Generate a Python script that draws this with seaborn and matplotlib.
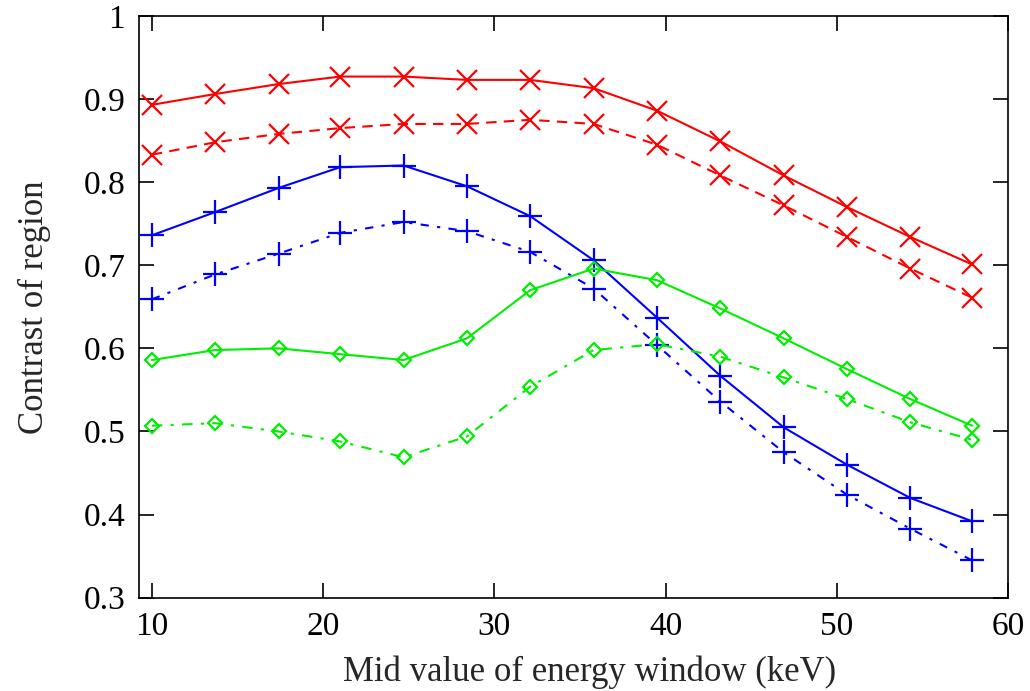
import matplotlib
matplotlib.use("Agg")
import matplotlib.pyplot as plt
import pandas as pd
import seaborn as sns

# mid value of energy window (keV)
energy = [10.0, 13.7, 17.4, 21.0, 24.7, 28.4, 32.1, 35.8, 39.5, 43.2, 46.9, 50.6, 54.3, 57.9]

red_solid = [0.893, 0.906, 0.918, 0.927, 0.927, 0.923, 0.923, 0.913, 0.886, 0.849, 0.808, 0.770, 0.734, 0.701]
red_dashed = [0.833, 0.848, 0.858, 0.865, 0.870, 0.870, 0.875, 0.870, 0.845, 0.808, 0.772, 0.734, 0.696, 0.661]
blue_solid = [0.736, 0.764, 0.793, 0.818, 0.820, 0.795, 0.759, 0.706, 0.637, 0.567, 0.505, 0.460, 0.420, 0.392]
blue_dashed = [0.659, 0.689, 0.714, 0.739, 0.752, 0.741, 0.716, 0.672, 0.604, 0.536, 0.475, 0.424, 0.383, 0.345]
green_solid = [0.586, 0.598, 0.600, 0.593, 0.586, 0.612, 0.670, 0.696, 0.682, 0.648, 0.612, 0.575, 0.539, 0.507]
green_dashed = [0.507, 0.510, 0.500, 0.488, 0.469, 0.494, 0.554, 0.598, 0.605, 0.590, 0.565, 0.539, 0.511, 0.490]

xticks = [10, 20, 30, 40, 50, 60]
yticks = [0.3, 0.4, 0.5, 0.6, 0.7, 0.8, 0.9, 1.0]
ytick_labels = ["0.3", "0.4", "0.5", "0.6", "0.7", "0.8", "0.9", "1"]


def get_data() -> pd.DataFrame:
    series = {
        "red_solid": red_solid, "red_dashed": red_dashed,
        "blue_solid": blue_solid, "blue_dashed": blue_dashed,
        "green_solid": green_solid, "green_dashed": green_dashed,
    }
    rows = []
    for name, vals in series.items():
        for x, y in zip(energy, vals):
            rows.append({"series": name, "energy": x, "contrast": y})
    return pd.DataFrame(rows)


styles = {
    "red_solid": dict(color="#ff0000", marker="x", markersize=15, linestyle="-"),
    "red_dashed": dict(color="#ff0000", marker="x", markersize=15, linestyle=(0, (5, 3.5))),
    "blue_solid": dict(color="#0000ff", marker="+", markersize=17, linestyle="-"),
    "blue_dashed": dict(color="#0000ff", marker="+", markersize=17, linestyle=(0, (4, 4, 1.5, 4))),
    "green_solid": dict(color="#00ee00", marker="D", markersize=7.5, linestyle="-",
                        markerfacecolor="none"),
    "green_dashed": dict(color="#00ee00", marker="D", markersize=7.5, linestyle=(0, (5, 4, 1.5, 4)),
                         markerfacecolor="none"),
}

sns.set_style("ticks")
plt.rcParams["font.family"] = ["Liberation Serif", "DejaVu Serif"]

df = get_data()
fig = plt.figure(figsize=(10.3, 6.91), dpi=100)
ax = fig.add_axes([0.135, 0.135, 0.8436, 0.842])

for name, st in styles.items():
    sub = df[df["series"] == name]
    sns.lineplot(data=sub, x="energy", y="contrast", ax=ax, linewidth=1.5,
                 markeredgecolor=st["color"], markeredgewidth=1.6, **st)

ax.set_xlim(9.25, 60)
ax.set_ylim(0.3, 1.0)
ax.set_xticks(xticks)
ax.set_yticks(yticks)
ax.set_yticklabels(ytick_labels)
ax.tick_params(direction="in", length=11, width=1.2, labelsize=24,
               top=True, right=True, pad=10, colors="black")
for s in ax.spines.values():
    s.set_visible(True)
    s.set_linewidth(1.2)
    s.set_color("black")
ax.set_xlabel("Mid value of energy window (keV)", fontsize=25, va="center")
ax.set_ylabel("Contrast of region", fontsize=25, va="center")
ax.xaxis.set_label_coords(0.518, -0.128)
ax.yaxis.set_label_coords(-0.12, 0.5)

fig.savefig("out.png", dpi=100)
